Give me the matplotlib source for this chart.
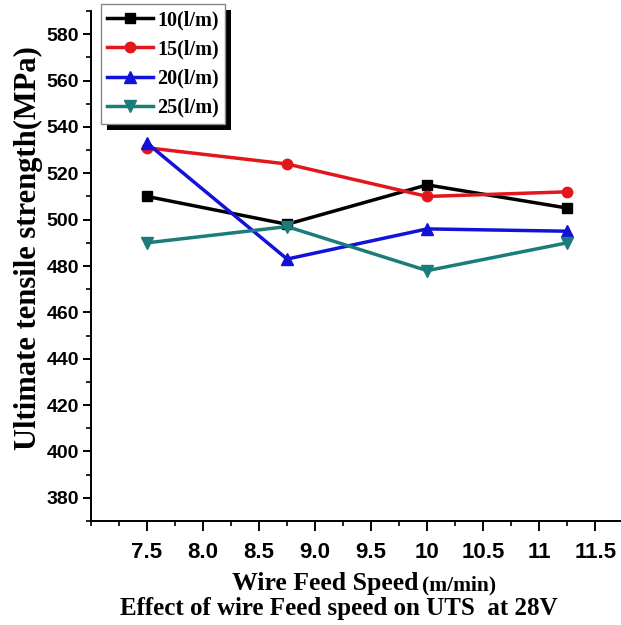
import numpy as np
import matplotlib
matplotlib.use("Agg")
import matplotlib.pyplot as plt
from matplotlib.patches import Rectangle
from matplotlib.ticker import MultipleLocator
from matplotlib.transforms import IdentityTransform

# wire feed speed (m/min) and UTS (MPa) for each gas flow rate
speed = [7.5, 8.75, 10.0, 11.25]
uts_10 = [510, 498, 515, 505]
uts_15 = [531, 524, 510, 512]
uts_20 = [533, 483, 496, 495]
uts_25 = [490, 497, 478, 490]

series_labels = ["10(l/m)", "15(l/m)", "20(l/m)", "25(l/m)"]
xtick_vals = [7.5, 8.0, 8.5, 9.0, 9.5, 10.0, 10.5, 11.0, 11.5]
xtick_text = ["7.5", "8.0", "8.5", "9.0", "9.5", "10", "10.5", "11", "11.5"]
ytick_vals = list(range(380, 581, 20))

SERIF = ["Liberation Serif", "DejaVu Serif"]
SANS = ["Liberation Sans", "DejaVu Sans"]

W, H = 621, 625
fig = plt.figure(figsize=(W / 100, H / 100), dpi=100)
ax = fig.add_axes([91 / W, 1 - 521 / H, (W - 91) / W, (521 - 11) / H])

styles = [
    ("black", "s", 6.5),
    ("#e3161b", "o", 7.5),
    ("#1212d8", "^", 8.5),
    ("#1b7d79", "v", 8.5),
]
for vals, lab, (c, m, ms) in zip([uts_10, uts_15, uts_20, uts_25], series_labels, styles):
    ax.plot(speed, vals, color=c, marker=m, ms=ms, lw=2.5, label=lab)

ax.set_xlim(7.0, 11.73)
ax.set_ylim(370, 590)
ax.set_xticks(xtick_vals)
ax.set_xticklabels(xtick_text)
ax.xaxis.set_minor_locator(MultipleLocator(0.25))
ax.set_yticks(ytick_vals)
ax.yaxis.set_minor_locator(MultipleLocator(10))

for s in ("top", "right"):
    ax.spines[s].set_visible(False)
for s in ("left", "bottom"):
    ax.spines[s].set_linewidth(1.4)
ax.tick_params(axis="x", which="major", direction="out", length=7.2, width=1.4, pad=8)
ax.tick_params(axis="x", which="minor", direction="out", length=3.6, width=1.2)
ax.tick_params(axis="y", which="major", direction="out", length=5.8, width=1.4, pad=3)
ax.tick_params(axis="y", which="minor", direction="out", length=3.6, width=1.2)
for t in ax.get_xticklabels():
    t.set_fontfamily(SANS)
    t.set_fontweight("bold")
    t.set_fontsize(16)
for t in ax.get_yticklabels():
    t.set_fontfamily(SANS)
    t.set_fontweight("bold")
    t.set_fontsize(14)

leg = ax.legend(loc="upper left", bbox_to_anchor=(101 / W, 1 - 4 / H),
                bbox_transform=fig.transFigure, frameon=True, fancybox=False,
                prop={"family": SERIF, "weight": "bold", "size": 14.5},
                handlelength=2.3, handletextpad=0.2, labelspacing=0.46,
                borderpad=0.3, borderaxespad=0, framealpha=1)
leg.get_frame().set_edgecolor("#888888")
leg.get_frame().set_linewidth(1.0)
leg.set_zorder(5)

# solid drop shadow behind the legend box
fig.canvas.draw()
bb = leg.get_window_extent()
shadow = Rectangle((bb.x0 + 6, bb.y0 - 6), bb.width, bb.height,
                   transform=IdentityTransform(), facecolor="black",
                   edgecolor="none", zorder=4.5, clip_on=False)
ax.add_artist(shadow)

fig.text(28 / W, 1 - 248 / H, "Ultimate tensile strength(MPa)", rotation=90,
         ha="center", va="center", family=SERIF, weight="bold", size=22)
fig.text(419 / W, 1 - 590 / H, "Wire Feed Speed", ha="right", va="baseline",
         family=SERIF, weight="bold", size=18.5)
fig.text(422 / W, 1 - 590 / H, "(m/min)", ha="left", va="baseline",
         family=SERIF, weight="bold", size=15.5)
fig.text(339 / W, 1 - 615 / H, "Effect of wire Feed speed on UTS  at 28V",
         ha="center", va="baseline", family=SERIF, weight="bold", size=18)

fig.savefig("out.png", dpi=100)
